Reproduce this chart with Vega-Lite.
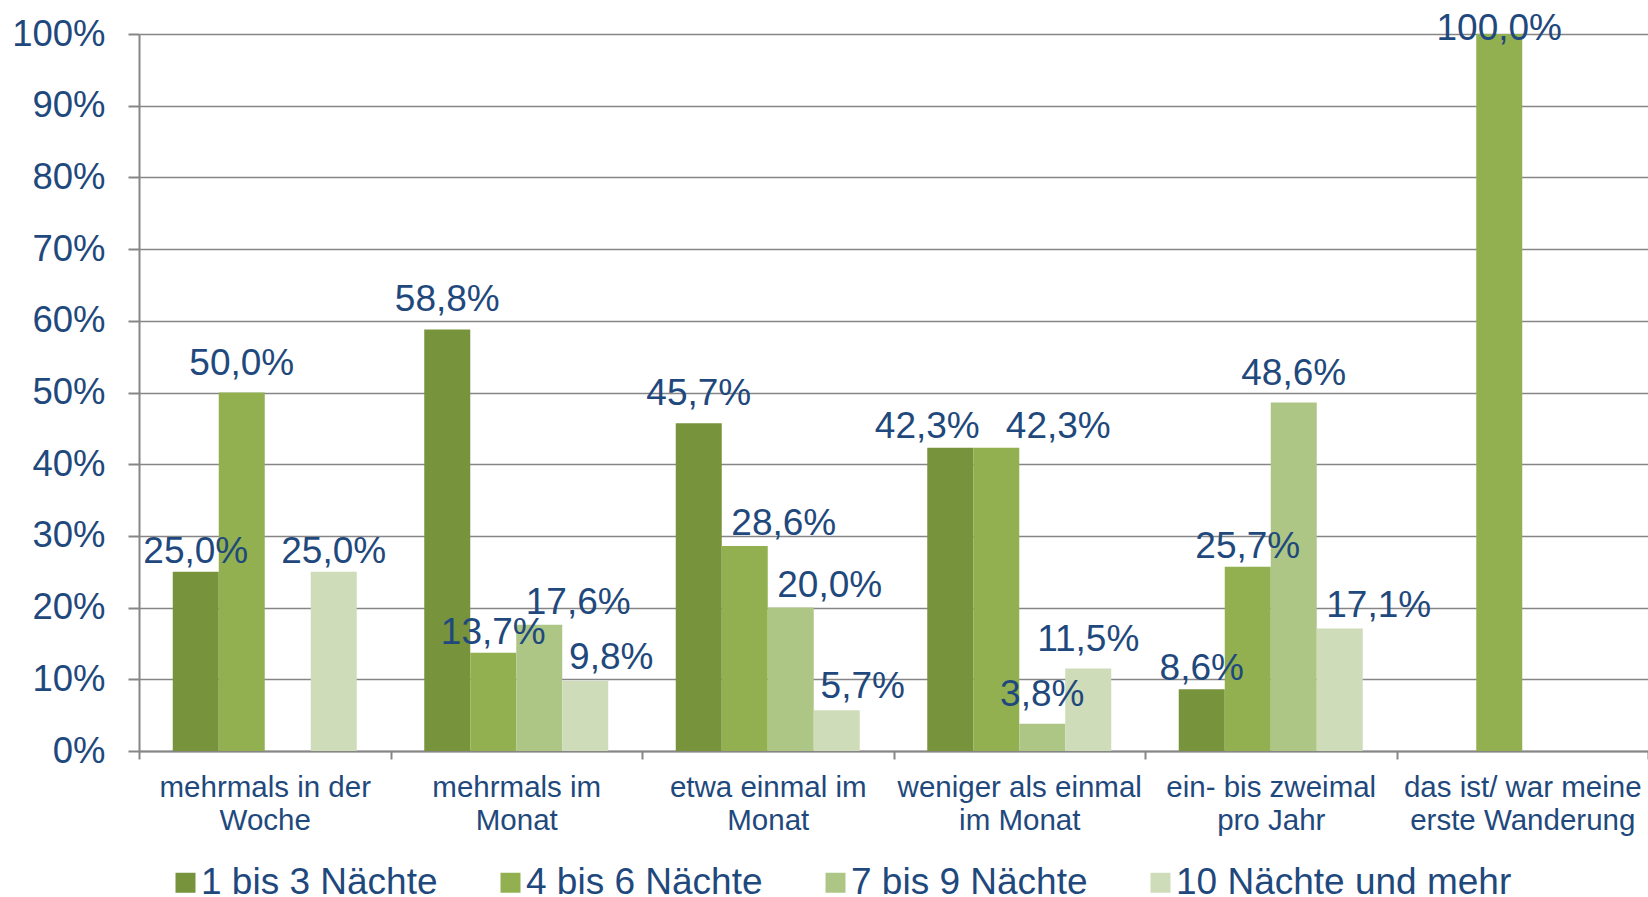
{
  "$schema": "https://vega.github.io/schema/vega-lite/v6.json",
  "width": 1509,
  "height": 717,
  "autosize": {"type": "none"},
  "padding": {"left": 139, "top": 34, "right": 0, "bottom": 146},
  "background": "white",
  "config": {
    "locale": {"number": {"decimal": ",", "thousands": ".", "grouping": [3], "currency": ["", " €"]}},
    "font": "Liberation Sans",
    "view": {"stroke": null},
    "text": {"fontSize": 37, "color": "#1F497D", "baseline": "alphabetic"}
  },
  "data": {
    "values": [
      {"Kategorie": "mehrmals in der Woche", "Nächte": "1 bis 3 Nächte", "Anteil": 0.25},
      {"Kategorie": "mehrmals in der Woche", "Nächte": "4 bis 6 Nächte", "Anteil": 0.5},
      {"Kategorie": "mehrmals in der Woche", "Nächte": "10 Nächte und mehr", "Anteil": 0.25},
      {"Kategorie": "mehrmals im Monat", "Nächte": "1 bis 3 Nächte", "Anteil": 0.588},
      {"Kategorie": "mehrmals im Monat", "Nächte": "4 bis 6 Nächte", "Anteil": 0.137},
      {"Kategorie": "mehrmals im Monat", "Nächte": "7 bis 9 Nächte", "Anteil": 0.176},
      {"Kategorie": "mehrmals im Monat", "Nächte": "10 Nächte und mehr", "Anteil": 0.098},
      {"Kategorie": "etwa einmal im Monat", "Nächte": "1 bis 3 Nächte", "Anteil": 0.457},
      {"Kategorie": "etwa einmal im Monat", "Nächte": "4 bis 6 Nächte", "Anteil": 0.286},
      {"Kategorie": "etwa einmal im Monat", "Nächte": "7 bis 9 Nächte", "Anteil": 0.2},
      {"Kategorie": "etwa einmal im Monat", "Nächte": "10 Nächte und mehr", "Anteil": 0.057},
      {"Kategorie": "weniger als einmal im Monat", "Nächte": "1 bis 3 Nächte", "Anteil": 0.423},
      {"Kategorie": "weniger als einmal im Monat", "Nächte": "4 bis 6 Nächte", "Anteil": 0.423},
      {"Kategorie": "weniger als einmal im Monat", "Nächte": "7 bis 9 Nächte", "Anteil": 0.038},
      {"Kategorie": "weniger als einmal im Monat", "Nächte": "10 Nächte und mehr", "Anteil": 0.115},
      {"Kategorie": "ein- bis zweimal pro Jahr", "Nächte": "1 bis 3 Nächte", "Anteil": 0.086},
      {"Kategorie": "ein- bis zweimal pro Jahr", "Nächte": "4 bis 6 Nächte", "Anteil": 0.257},
      {"Kategorie": "ein- bis zweimal pro Jahr", "Nächte": "7 bis 9 Nächte", "Anteil": 0.486},
      {"Kategorie": "ein- bis zweimal pro Jahr", "Nächte": "10 Nächte und mehr", "Anteil": 0.171},
      {"Kategorie": "das ist/ war meine erste Wanderung", "Nächte": "4 bis 6 Nächte", "Anteil": 1.0}
    ]
  },
  "encoding": {
    "x": {
      "field": "Kategorie",
      "type": "nominal",
      "sort": ["mehrmals in der Woche", "mehrmals im Monat", "etwa einmal im Monat", "weniger als einmal im Monat", "ein- bis zweimal pro Jahr", "das ist/ war meine erste Wanderung"],
      "scale": {"paddingInner": 0, "paddingOuter": 0},
      "axis": {
        "title": null,
        "labelAngle": 0,
        "labelFontSize": 29.5,
        "labelColor": "#1F497D",
        "labelLineHeight": 33,
        "labelPadding": 14,
        "labelLimit": 400,
        "domainColor": "#868686",
        "domainWidth": 2,
        "tickColor": "#868686",
        "tickWidth": 2,
        "tickSize": 8,
        "tickBand": "extent",
        "grid": false,
        "labelExpr": "datum.value == 'mehrmals in der Woche' ? ['mehrmals in der', 'Woche'] : datum.value == 'mehrmals im Monat' ? ['mehrmals im', 'Monat'] : datum.value == 'etwa einmal im Monat' ? ['etwa einmal im', 'Monat'] : datum.value == 'weniger als einmal im Monat' ? ['weniger als einmal', 'im Monat'] : datum.value == 'ein- bis zweimal pro Jahr' ? ['ein- bis zweimal', 'pro Jahr'] : datum.value == 'das ist/ war meine erste Wanderung' ? ['das ist/ war meine', 'erste Wanderung'] : ''"
      }
    },
    "xOffset": {
      "field": "Nächte",
      "type": "nominal",
      "sort": ["1 bis 3 Nächte", "4 bis 6 Nächte", "7 bis 9 Nächte", "10 Nächte und mehr"],
      "scale": {"paddingInner": 0, "paddingOuter": 0.734}
    },
    "y": {
      "field": "Anteil",
      "type": "quantitative",
      "scale": {"domain": [0, 1]},
      "axis": {
        "title": null,
        "values": [0, 0.1, 0.2, 0.3, 0.4, 0.5, 0.6, 0.7, 0.8, 0.9, 1.0],
        "format": ".0%",
        "labelFontSize": 36.5,
        "labelColor": "#1F497D",
        "labelPadding": 23,
        "domainColor": "#868686",
        "domainWidth": 2,
        "tickColor": "#868686",
        "tickWidth": 2,
        "tickSize": 11,
        "grid": true,
        "gridColor": "#868686",
        "gridWidth": 1.5
      }
    },
    "text": {"field": "Anteil", "type": "quantitative", "format": ".1%"}
  },
  "layer": [
    {
      "mark": {"type": "bar"},
      "encoding": {
        "text": null,
        "color": {
          "field": "Nächte",
          "type": "nominal",
          "sort": ["1 bis 3 Nächte", "4 bis 6 Nächte", "7 bis 9 Nächte", "10 Nächte und mehr"],
          "scale": {
            "domain": ["1 bis 3 Nächte", "4 bis 6 Nächte", "7 bis 9 Nächte", "10 Nächte und mehr"],
            "range": ["#77933C", "#92B050", "#AEC685", "#CFDCB9"]
          },
          "legend": {
            "title": null,
            "orient": "none",
            "direction": "horizontal",
            "legendX": 28,
            "legendY": 830,
            "padding": 0,
            "symbolType": "square",
            "symbolSize": 400,
            "symbolStrokeWidth": 0,
            "labelFontSize": 37,
            "labelColor": "#1F497D",
            "labelOffset": -3,
            "columnPadding": 54,
            "labelLimit": 500
          }
        }
      }
    },
    {
      "transform": [{"filter": "indexof(['mehrmals in der Woche|4 bis 6 Nächte', 'mehrmals im Monat|1 bis 3 Nächte', 'etwa einmal im Monat|1 bis 3 Nächte', 'ein- bis zweimal pro Jahr|7 bis 9 Nächte', 'weniger als einmal im Monat|7 bis 9 Nächte', 'weniger als einmal im Monat|10 Nächte und mehr'], datum.Kategorie + '|' + datum['Nächte']) >= 0"}],
      "mark": {"type": "text", "dy": -18}
    },
    {
      "transform": [{"filter": "indexof(['mehrmals in der Woche|1 bis 3 Nächte', 'mehrmals in der Woche|10 Nächte und mehr', 'mehrmals im Monat|4 bis 6 Nächte', 'ein- bis zweimal pro Jahr|1 bis 3 Nächte', 'ein- bis zweimal pro Jahr|4 bis 6 Nächte'], datum.Kategorie + '|' + datum['Nächte']) >= 0"}],
      "mark": {"type": "text", "dy": -9}
    },
    {
      "transform": [{"filter": "indexof(['mehrmals im Monat|7 bis 9 Nächte', 'ein- bis zweimal pro Jahr|10 Nächte und mehr', 'etwa einmal im Monat|7 bis 9 Nächte', 'etwa einmal im Monat|4 bis 6 Nächte'], datum.Kategorie + '|' + datum['Nächte']) >= 0"}],
      "mark": {"type": "text", "dx": 39, "dy": -11}
    },
    {
      "transform": [{"filter": "indexof(['mehrmals im Monat|10 Nächte und mehr', 'etwa einmal im Monat|10 Nächte und mehr'], datum.Kategorie + '|' + datum['Nächte']) >= 0"}],
      "mark": {"type": "text", "dx": 26, "dy": -12}
    },
    {
      "transform": [{"filter": "datum.Kategorie == 'weniger als einmal im Monat' && datum['Nächte'] == '1 bis 3 Nächte'"}],
      "mark": {"type": "text", "dx": -23, "dy": -10}
    },
    {
      "transform": [{"filter": "datum.Kategorie == 'weniger als einmal im Monat' && datum['Nächte'] == '4 bis 6 Nächte'"}],
      "mark": {"type": "text", "dx": 62, "dy": -10}
    },
    {
      "transform": [{"filter": "datum.Kategorie == 'das ist/ war meine erste Wanderung'"}],
      "mark": {"type": "text", "dy": 6}
    }
  ]
}
